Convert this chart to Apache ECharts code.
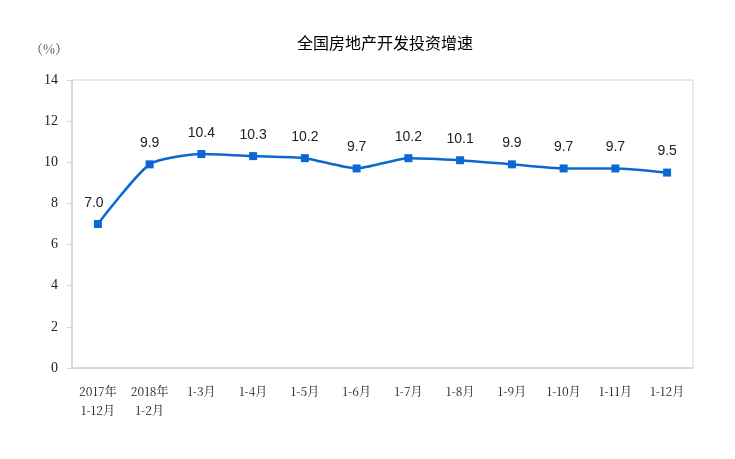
<!DOCTYPE html>
<html><head><meta charset="utf-8">
<script src="https://cdn.jsdelivr.net/npm/echarts@6/dist/echarts.min.js"></script>
<style>html,body{margin:0;padding:0;background:#fff}#c{width:735px;height:459px}</style>
</head><body><div id="c"></div>
<script>
var categories = ['2017年\n1-12月','2018年\n1-2月','1-3月','1-4月','1-5月','1-6月','1-7月','1-8月','1-9月','1-10月','1-11月','1-12月'];
var growth = [7.0, 9.9, 10.4, 10.3, 10.2, 9.7, 10.2, 10.1, 9.9, 9.7, 9.7, 9.5];
var yTicks = [0, 2, 4, 6, 8, 10, 12, 14];
var titleText = '全国房地产开发投资增速';
var unitText = '（%）';

var chart = echarts.init(document.getElementById('c'));
var seriesData = growth.map(function(v, i){
  var d = {value: v};
  if (i === 0) d.label = {offset: [-4, 0]};
  return d;
});
chart.setOption({
  animation: false,
  title: {text: titleText, left: 380, top: 30, textAlign: 'center',
    textStyle: {fontSize: 16, fontWeight: 'normal', color: '#000', fontFamily: 'Noto Sans CJK SC'}},
  graphic: [{type: 'text', left: 30, top: 43, style: {text: unitText, fontSize: 13, fill: '#333', fontFamily: 'Noto Serif CJK SC, Noto Sans CJK SC'}}],
  grid: {left: 72, right: 42, top: 80, bottom: 91, show: true, borderColor: '#d4d4d4', borderWidth: 1},
  xAxis: {type: 'category', data: categories, boundaryGap: true,
    axisLine: {lineStyle: {color: '#d4d4d4', width: 1.5}},
    axisTick: {inside: true, length: 5, lineStyle: {color: '#d4d4d4'}},
    axisLabel: {color: '#222', fontSize: 12, margin: 14, lineHeight: 19, fontFamily: 'Noto Serif CJK SC, Noto Sans CJK SC', interval: 0}},
  yAxis: {type: 'value', min: yTicks[0], max: yTicks[yTicks.length-1], interval: 2,
    axisLine: {show: true, lineStyle: {color: '#d4d4d4', width: 1.5}},
    axisTick: {show: true, length: 5, lineStyle: {color: '#d4d4d4'}},
    splitLine: {show: false},
    axisLabel: {color: '#222', fontSize: 14, margin: 14, fontFamily: 'Liberation Serif'}},
  series: [{type: 'line', data: seriesData, smooth: 0.2,
    symbol: 'rect', symbolSize: 8,
    lineStyle: {color: '#0b68d1', width: 2.5},
    itemStyle: {color: '#0b68d1'},
    label: {show: true, position: 'top', distance: 10, fontSize: 14, color: '#222', fontFamily: 'Liberation Sans',
      formatter: function(p){ return p.value.toFixed(1); }}}]
});
</script></body></html>
